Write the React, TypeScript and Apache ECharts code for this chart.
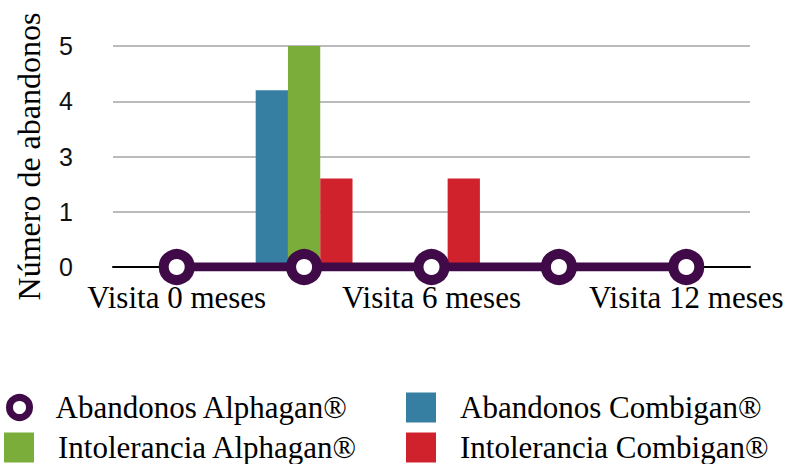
import React, { useEffect, useRef } from "react";
import * as echarts from "echarts";

const categories = ["Visita 0 meses", "Visita 3 meses", "Visita 6 meses", "Visita 9 meses", "Visita 12 meses"];
const yTickLabels = ["0", "1", "3", "4", "5"];
const abandonosAlphagan = [0, 0, 0, 0, 0];
const abandonosCombigan = [0, 3.2, 0, 0, 0];
const intoleranciaAlphagan = [0, 4, 0, 0, 0];
const intoleranciaCombigan = [0, 1.6, 1.6, 0, 0];

const SERIF = "Liberation Serif";
const SANS = "Liberation Sans";
const PURPLE = "#3f0a47";
const BLUE = "#367fa3";
const GREEN = "#7aad3a";
const RED = "#d0222c";

export default function App() {
  const ref = useRef<HTMLDivElement>(null);
  useEffect(() => {
    if (!ref.current) return;
    const chart = echarts.init(ref.current, null, { renderer: "svg" });
    const legendText = { fontFamily: SERIF, fontSize: 31, lineHeight: 30, color: "#000", padding: [0, 0, 0, 19] };
    chart.setOption({
      animation: false,
      grid: { left: 113, right: 37, top: 46, bottom: 197, containLabel: false, outerBoundsMode: "none" },
      legend: [
        {
          data: [{ name: "Abandonos Alphagan®", icon: "circle", itemStyle: { color: "#fff", borderColor: PURPLE, borderWidth: 7 } }],
          left: 6, top: 392, padding: 0, itemWidth: 20, itemHeight: 20, textStyle: { ...legendText, padding: [0, 0, 0, 21] }, selectedMode: false,
        },
        {
          data: [{ name: "Intolerancia Alphagan®", icon: "rect" }],
          left: 4, top: 432, padding: 0, itemWidth: 30, itemHeight: 30, textStyle: legendText, selectedMode: false,
        },
        {
          data: [{ name: "Abandonos Combigan®", icon: "rect" }],
          left: 406, top: 392, padding: 0, itemWidth: 30, itemHeight: 30, textStyle: legendText, selectedMode: false,
        },
        {
          data: [{ name: "Intolerancia Combigan®", icon: "rect" }],
          left: 406, top: 432, padding: 0, itemWidth: 30, itemHeight: 30, textStyle: legendText, selectedMode: false,
        },
      ],
      xAxis: {
        type: "category",
        data: categories,
        axisLine: { lineStyle: { color: "#000", width: 2 } },
        axisTick: { show: false },
        axisLabel: { interval: 1, fontFamily: SERIF, fontSize: 31, color: "#000", margin: 15 },
      },
      yAxis: {
        type: "value",
        min: 0,
        max: 4,
        interval: 1,
        name: "Número de abandonos",
        nameLocation: "middle",
        nameGap: 68,
        nameTextStyle: { fontFamily: SERIF, fontSize: 32, color: "#000" },
        axisLine: { show: false },
        axisTick: { show: false },
        splitLine: { lineStyle: { color: "#bbbbbb", width: 2 } },
        axisLabel: {
          fontFamily: SANS,
          fontSize: 25,
          color: "#111",
          margin: 40,
          formatter: (v: number) => yTickLabels[Math.round(v)] ?? "",
        },
      },
      series: [
        {
          name: "Abandonos Alphagan®",
          type: "line",
          data: abandonosAlphagan,
          z: 5,
          symbol: "circle",
          symbolSize: 26,
          lineStyle: { color: PURPLE, width: 9 },
          itemStyle: { color: "#fff", borderColor: PURPLE, borderWidth: 10 },
        },
        {
          name: "Abandonos Combigan®",
          type: "bar",
          data: abandonosCombigan,
          itemStyle: { color: BLUE },
          barGap: "0%",
          barCategoryGap: "24%",
        },
        {
          name: "Intolerancia Alphagan®",
          type: "bar",
          data: intoleranciaAlphagan,
          itemStyle: { color: GREEN },
          barGap: "0%",
          barCategoryGap: "24%",
        },
        {
          name: "Intolerancia Combigan®",
          type: "bar",
          data: intoleranciaCombigan,
          itemStyle: { color: RED },
          barGap: "0%",
          barCategoryGap: "24%",
        },
      ],
    });
    return () => chart.dispose();
  }, []);
  return <div ref={ref} style={{ width: 787, height: 464, position: "absolute", left: 0, top: 0 }} />;
}
